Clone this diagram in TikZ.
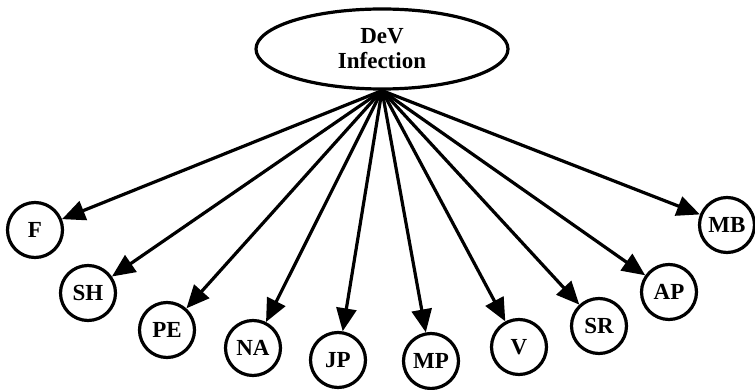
\documentclass[tikz,border=0pt]{standalone}
\usepackage{fontspec}
\setmainfont{Liberation Serif}
\usetikzlibrary{arrows.meta,shapes.geometric}

\begin{document}
\begin{tikzpicture}[x=1pt,y=-1pt,->,>={Triangle[length=23pt,width=20pt]},
  line width=3.2pt,
  cause node/.style={ellipse,draw,font=\fontsize{23}{25}\selectfont\bfseries,
    align=center,minimum width=252pt,minimum height=80pt,inner sep=0pt},
  sign node/.style={circle,draw,font=\fontsize{23}{25}\selectfont\bfseries,
    minimum size=55pt,inner sep=0pt}]

  \useasboundingbox (0,0) rectangle (755,390);

  \node[cause node] (dev) at (382,49) {DeV\\Infection};

  \node[sign node] (f)  at (35,230)  {F};
  \node[sign node] (sh) at (88,293)  {SH};
  \node[sign node] (pe) at (167,330) {PE};
  \node[sign node] (na) at (253,348) {NA};
  \node[sign node] (jp) at (338,360) {JP};
  \node[sign node] (mp) at (431,361) {MP};
  \node[sign node] (v)  at (519,347) {V};
  \node[sign node] (sr) at (599,326) {SR};
  \node[sign node] (ap) at (669,292) {AP};
  \node[sign node] (mb) at (727,225) {MB};

  \path
  (dev.south) edge (f)
  (dev.south) edge (sh)
  (dev.south) edge (pe)
  (dev.south) edge (na)
  (dev.south) edge (jp)
  (dev.south) edge (mp)
  (dev.south) edge (v)
  (dev.south) edge (sr)
  (dev.south) edge (ap)
  (dev.south) edge (mb)
  ;

\end{tikzpicture}
\end{document}
